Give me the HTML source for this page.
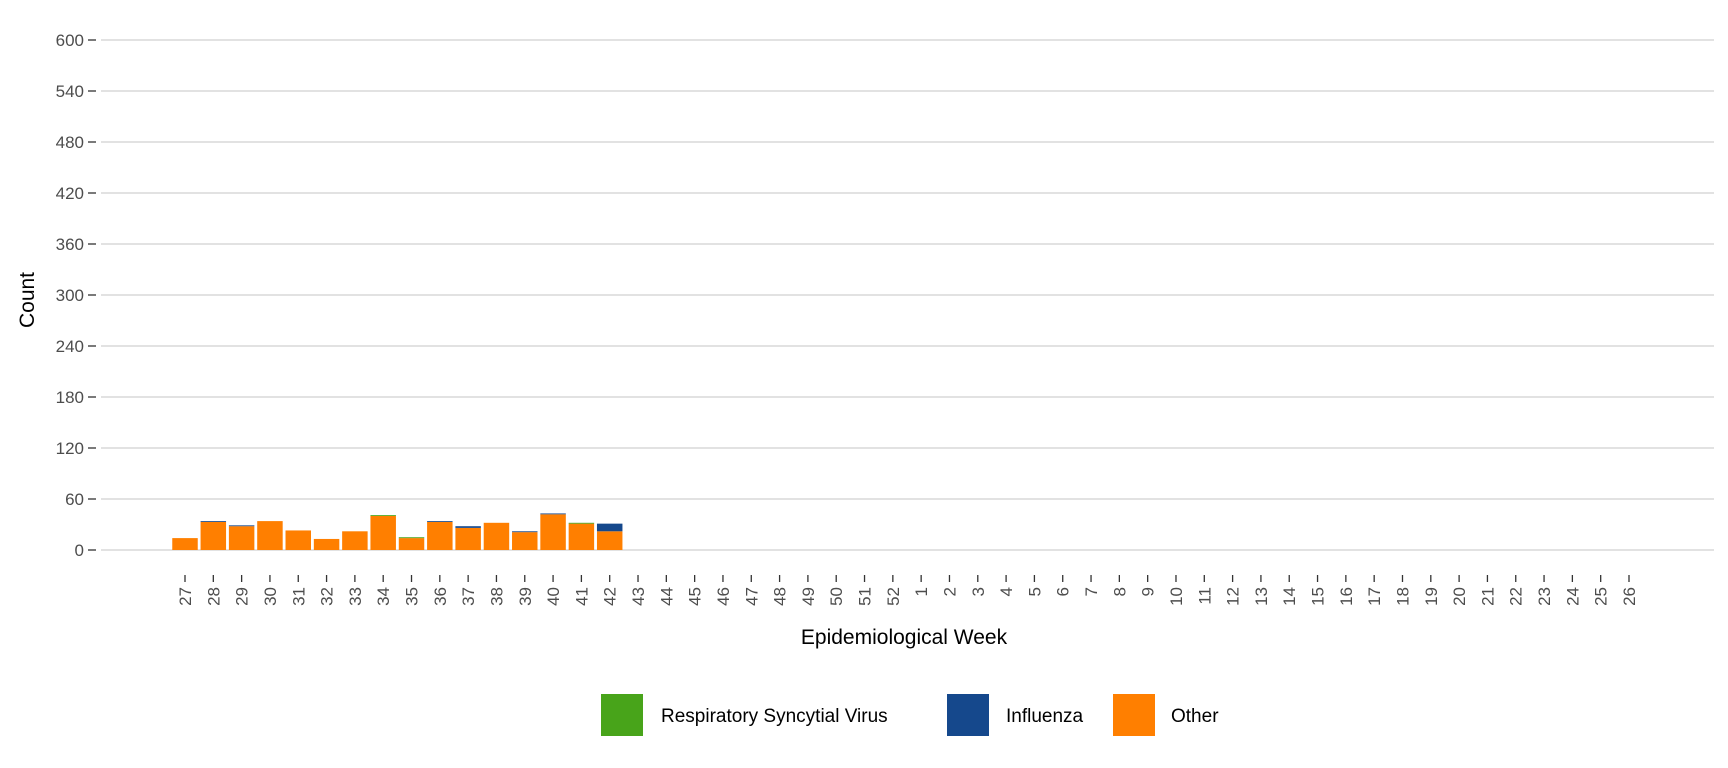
<!DOCTYPE html>
<html><head><meta charset="utf-8"><style>
body{margin:0;background:#fff;}
svg{display:block;font-family:"Liberation Sans",Arial,sans-serif;}
</style></head><body>
<svg id="chart" width="1728" height="768" viewBox="0 0 1728 768">
<g id="grid"></g>
<g id="yaxis"></g>
<g id="bars"></g>
<g id="xaxis"></g>
<text x="904" y="644" font-size="21" text-anchor="middle" fill="#000">Epidemiological Week</text>
<text transform="translate(34,300) rotate(-90)" font-size="21" text-anchor="middle" fill="#000">Count</text>
<g>
<rect x="601" y="694" width="42" height="42" fill="#48a41a"/>
<text x="661" y="722" font-size="19" fill="#000">Respiratory Syncytial Virus</text>
<rect x="947" y="694" width="42" height="42" fill="#15488c"/>
<text x="1006" y="722" font-size="19" fill="#000">Influenza</text>
<rect x="1113" y="694" width="42" height="42" fill="#ff7f00"/>
<text x="1171" y="722" font-size="19" fill="#000">Other</text>
</g>
</svg>
<script>
const weeks = [27,28,29,30,31,32,33,34,35,36,37,38,39,40,41,42,43,44,45,46,47,48,49,50,51,52,1,2,3,4,5,6,7,8,9,10,11,12,13,14,15,16,17,18,19,20,21,22,23,24,25,26];
const otherVals = [14,33,28,34,23,13,22,40,14,33,26,32,21,42,31,22];
const influenzaVals = [0,1,1,0,0,0,0,0,0,1,2,0,1,1,0,9];
const rsvVals = [0,0,0,0,0,0,0,1,1,0,0,0,0,0,1,0];
const yTicks = [0,60,120,180,240,300,360,420,480,540,600];

const NS = "http://www.w3.org/2000/svg";
const plotL = 101, plotR = 1714, y0 = 550, yTop = 40, yMax = 600;
const x0 = 185, band = (1629 - 185) / 51, barW = band * 0.9;
function yScale(v){ return y0 - (v / yMax) * (y0 - yTop); }
function xScale(i){ return x0 + i * band; }
function mk(tag, attrs, parent){ const e = document.createElementNS(NS, tag); for (const k in attrs) e.setAttribute(k, attrs[k]); parent.appendChild(e); return e; }

const grid = document.getElementById('grid'), yaxis = document.getElementById('yaxis');
yTicks.forEach(t => {
  const y = yScale(t);
  const l = mk('line', {x1: plotL, x2: plotR, y1: y, y2: y, stroke: '#d0d0d0', 'stroke-width': 1.3}, grid);
  
  
  const tk = mk('line', {x1: 88, x2: 96, y1: y, y2: y, stroke: '#333', 'stroke-width': 1.3}, yaxis);
  
  
  const tx = mk('text', {x: 84, y: y + 6, 'font-size': 17, 'text-anchor': 'end', fill: '#4d4d4d'}, yaxis);
  tx.textContent = t;
  
  
});

const bars = document.getElementById('bars');
otherVals.forEach((v, i) => {
  const cx = xScale(i);
  let base = 0;
  const segs = [[v, '#ff7f00', 'other'], [influenzaVals[i], '#15488c', 'influenza'], [rsvVals[i], '#48a41a', 'rsv']];
  segs.forEach(s => {
    if (s[0] > 0) {
      const r = mk('rect', {x: cx - barW / 2, y: yScale(base + s[0]), width: barW, height: yScale(base) - yScale(base + s[0]), fill: s[1]}, bars);
      
      
    }
    base += s[0];
  });
});

const xaxis = document.getElementById('xaxis');
weeks.forEach((w, i) => {
  const x = xScale(i);
  const tk = mk('line', {x1: x, x2: x, y1: 575, y2: 582, stroke: '#333', 'stroke-width': 1.3}, xaxis);
  
  
  const tx = mk('text', {transform: 'translate(' + (x + 6) + ',587) rotate(-90)', 'font-size': 17, 'text-anchor': 'end', fill: '#4d4d4d'}, xaxis);
  tx.textContent = w;
  
  
});
</script>
</body></html>
